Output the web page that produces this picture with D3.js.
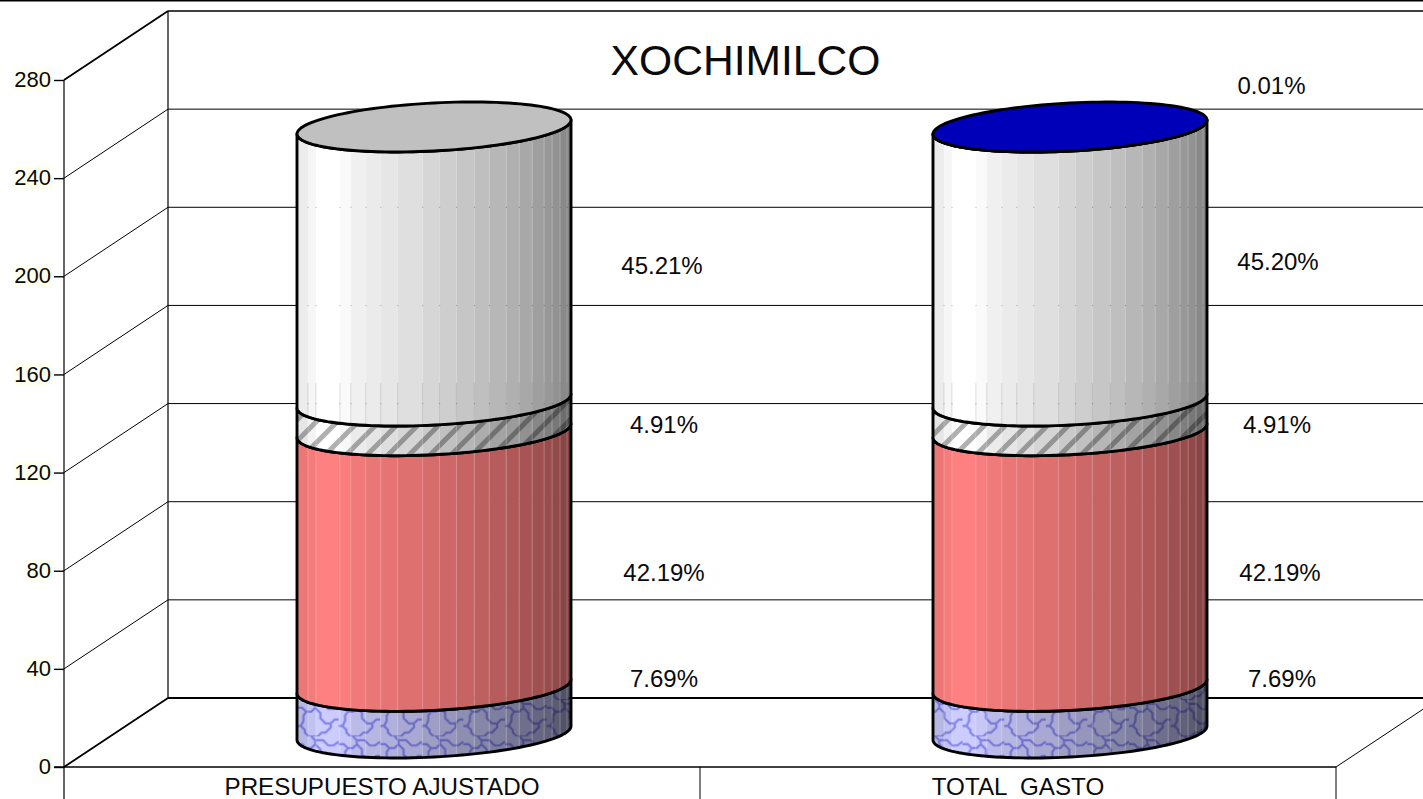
<!DOCTYPE html>
<html><head><meta charset="utf-8">
<script src="https://cdn.jsdelivr.net/npm/d3@7"></script>
<style>html,body{margin:0;padding:0;background:#fff;overflow:hidden}svg{display:block}text{font-family:"Liberation Sans",Arial,sans-serif;fill:#0a0a0a}</style>
</head><body><div id="chart"></div>
<script>
const categories = ["PRESUPUESTO AJUSTADO", "TOTAL  GASTO"];
const title = "XOCHIMILCO";
const tickValues = [0, 40, 80, 120, 160, 200, 240, 280];
const serieBlue = [19, 19];
const serieRed = [104.2, 104.2];
const serieGrey = [12.1, 12.1];
const serieWhite = [111.7, 111.65];
const serieTop = [0, 0.02];
const labelsBlue = ["7.69%", "7.69%"];
const labelsRed = ["42.19%", "42.19%"];
const labelsGrey = ["4.91%", "4.91%"];
const labelsWhite = ["45.21%", "45.20%"];
const labelsTop = ["", "0.01%"];

const W = 1423, H = 799, DX = 104, DY = 69;
const svg = d3.select("#chart").append("svg").attr("width", W).attr("height", H);
const y = d3.scaleLinear().domain([0, 280]).range([767, 80]);
const x = d3.scaleBand().domain(categories).range([64, 1336]);
const defs = svg.append("defs");

// hatch fills
const pg = defs.append("pattern").attr("id", "hatch").attr("width", 21).attr("height", 21)
  .attr("patternUnits", "userSpaceOnUse").attr("patternTransform", "translate(297,0)");
pg.append("path").attr("d", "M-3,24 L24,-3 M-3,3 L3,-3 M18,24 L24,18").attr("stroke", "#b0b0b0").attr("stroke-width", 5).attr("fill", "none");
const pb = defs.append("pattern").attr("id", "weave").attr("width", 32).attr("height", 28)
  .attr("patternUnits", "userSpaceOnUse").attr("patternTransform", "translate(297,700) scale(1.3)");
pb.append("path").attr("d", "M0,6 h4 l3,3 h4 l3,-3 v-3 l-3,-3 M14,6 l4,4 v4 l4,4 h4 l3,-3 h3 M0,20 h3 l3,3 v2 l3,3 M7,9 l-2,3 v4 l-2,4 M16,28 l3,-3 h3 l4,-4 v-3 M14,3 h6 l4,4 h4 l4,-3 M9,28 h7")
  .attr("stroke", "#a4a4ee").attr("stroke-width", 1.7).attr("fill", "none");

// back wall and floor
const grid = svg.append("g").attr("stroke", "#000");
grid.selectAll("line.h").data(tickValues).join("line").attr("class", "h")
  .attr("x1", DX + 64).attr("x2", W).attr("y1", d => y(d) - DY).attr("y2", d => y(d) - DY)
  .attr("stroke-width", d => d === 0 ? 2 : d === 280 ? 1.4 : 1);
grid.selectAll("line.d").data(tickValues).join("line").attr("class", "d")
  .attr("x1", 64).attr("x2", 64 + DX).attr("y1", d => y(d)).attr("y2", d => y(d) - DY)
  .attr("stroke-width", d => (d === 0 || d === 280) ? 1.8 : 1);
grid.append("line").attr("x1", 168).attr("x2", 168).attr("y1", y(280) - DY).attr("y2", y(0) - DY).attr("stroke-width", 1.2);
grid.append("line").attr("x1", 1336).attr("x2", 1336 + DX).attr("y1", y(0)).attr("y2", y(0) - DY);
grid.append("line").attr("x1", 0).attr("x2", W).attr("y1", 0.5).attr("y2", 0.5).attr("stroke-width", 2);

// axes
grid.append("line").attr("x1", 64).attr("x2", 64).attr("y1", y(280)).attr("y2", H).attr("stroke-width", 1.2);
grid.append("line").attr("x1", 54).attr("x2", 1336).attr("y1", y(0)).attr("y2", y(0)).attr("stroke-width", 1.5);
const seps = [x.range()[0] + x.step(), x.range()[1]];
grid.selectAll("line.s").data(seps).join("line").attr("class", "s")
  .attr("x1", d => d).attr("x2", d => d).attr("y1", y(0)).attr("y2", H);

const yAxis = svg.append("g").attr("transform", "translate(64,0)")
  .call(d3.axisLeft(y).tickValues(tickValues).tickSize(10).tickPadding(3));
yAxis.select(".domain").remove();
yAxis.selectAll(".tick line").attr("stroke", "#000").attr("stroke-width", 1.4);
yAxis.selectAll(".tick text").attr("font-size", 22).attr("font-family", '"Liberation Sans",Arial,sans-serif').attr("fill", "#222")
  .attr("dy", ".3em");
yAxis.selectAll(".tick").each(function () {
  const t = d3.select(this), b = t.select("text").node().getBBox();
  t.insert("rect", "text").attr("x", b.x - 1).attr("y", b.y + 1).attr("width", b.width + 2).attr("height", b.height - 2).attr("fill", "#fffff0");
});

// cylinders
const R = 137, TILT = 7, RY = 24;
const facetEdges = [0, 11, 19, 43, 54, 69, 84, 101, 126, 143, 160, 178, 193, 210, 223, 236, 248, 256, 264, 271, 275].map(d => d / 275);
const shade = d3.scaleLinear().domain([0, .03, .06, .1, .16, .2, .43, .61, .79, .94, 1]).range([.9, .94, .97, 1, 1, .95, .87, .78, .69, .58, .5]).clamp(true);
const tint = (base, k) => { const c = d3.rgb(base); return d3.rgb(c.r * k, c.g * k, c.b * k).formatHex(); };
const pt = (cx, cy, t) => [cx + R * Math.cos(t), cy - TILT * Math.cos(t) + RY * Math.sin(t)];
const arc = d3.range(0, 61).map(i => i / 60 * Math.PI);
const crescent = (cx, y0, y1) => {
  const low = arc.map(t => pt(cx, y0, t));           // right to left along the lower edge
  const up = arc.slice().reverse().map(t => pt(cx, y1, t)); // left to right along the upper edge
  return d3.line()(low.concat(up)) + "Z";
};
const seriesDefs = [
  { vals: serieBlue, base: "#ccccff", over: "url(#weave)", gamma: 1.45 },
  { vals: serieRed, base: "#ff8080", gamma: 1 },
  { vals: serieGrey, base: "#ffffff", over: "url(#hatch)", gamma: 1.35 },
  { vals: serieWhite, base: "#ffffff", gamma: 1, seamMarks: true },
  { vals: serieTop, base: "#ffffff", gamma: 1 }
];
const topColors = ["#c0c0c0", "#0000b8"];
const baseY = -34; // floor offset of the cylinder axis
const ellipse = (cx, cy) => d3.line()(d3.range(0, 121).map(i => pt(cx, cy, i / 120 * 2 * Math.PI))) + "Z";

categories.forEach((cat, ci) => {
  const cx = x(cat) + x.bandwidth() / 2 + DX / 2;
  const g = svg.append("g");
  let cum = 0;
  seriesDefs.forEach((s, si) => {
    const v = s.vals[ci];
    if (!v) return;
    const y0 = y(cum) + baseY, y1 = y(cum + v) + baseY;
    cum += v;
    const id = `clip-${ci}-${si}`, d = crescent(cx, y0, y1);
    defs.append("clipPath").attr("id", id).append("path").attr("d", d);
    const sg = g.append("g").attr("clip-path", `url(#${id})`);
    const fx = d3.scaleLinear().domain([0, 1]).range([cx - R, cx + R]);
    d3.pairs(facetEdges).forEach(([a, b]) => {
      sg.append("rect").attr("x", fx(a)).attr("width", fx(b) - fx(a) + .5).attr("y", y1 - 40).attr("height", y0 - y1 + 80)
        .attr("fill", tint(s.base, Math.pow(shade((a + b) / 2), s.gamma)));
    });
    if (s.over) sg.append("rect").attr("x", cx - R).attr("width", 2 * R).attr("y", y1 - 40).attr("height", y0 - y1 + 80)
      .attr("fill", s.over).style("mix-blend-mode", "multiply");
    facetEdges.slice(1, -1).forEach(a => {
      sg.append("line").attr("x1", fx(a)).attr("x2", fx(a)).attr("y1", y1 - 40).attr("y2", y0 + 40)
        .attr("stroke", "#fff").attr("stroke-opacity", .24).attr("stroke-width", 1);
      if (s.seamMarks) {
        sg.append("line").attr("x1", fx(a)).attr("x2", fx(a)).attr("y1", y0 - 18).attr("y2", y0 + 30)
          .attr("stroke", "#555").attr("stroke-opacity", .18).attr("stroke-width", 1);
        tickValues.forEach(tv => {
          sg.append("rect").attr("x", fx(a) - .5).attr("y", y(tv) - DY - .5).attr("width", 1.2).attr("height", 1.2).attr("fill", "#000").attr("fill-opacity", .22);
        });
      }
    });
    g.append("path").attr("d", d).attr("fill", "none").attr("stroke", "#000").attr("stroke-width", 2.9).attr("stroke-linejoin", "round");
  });
  g.append("path").attr("d", ellipse(cx, y(cum) + baseY)).attr("fill", topColors[ci]).attr("stroke", "#000").attr("stroke-width", 2.9);
});

// category labels
svg.selectAll("text.cat").data(categories).join("text").attr("class", "cat")
  .attr("x", d => x(d) + x.bandwidth() / 2).attr("y", 795).attr("text-anchor", "middle")
  .attr("font-size", 24.2).style("white-space", "pre").text(d => d);

// value labels, placed by hand in the original
const labelSpots = [
  { t: labelsBlue, xs: [664, 1282], ys: [678.5, 678.5] },
  { t: labelsRed, xs: [664, 1280], ys: [572.5, 572.5] },
  { t: labelsGrey, xs: [664, 1277], ys: [424.7, 424.7] },
  { t: labelsWhite, xs: [662, 1278], ys: [265.5, 261.5] },
  { t: labelsTop, xs: [0, 1271.5], ys: [0, 85.5] }
];
labelSpots.forEach(l => l.t.forEach((txt, i) => {
  if (!txt) return;
  svg.append("text").attr("x", l.xs[i]).attr("y", l.ys[i]).attr("dy", ".35em").attr("text-anchor", "middle").attr("font-size", 24).text(txt);
}));

svg.append("text").attr("x", 745.5).attr("y", 75).attr("text-anchor", "middle").attr("font-size", 42.6).text(title);
</script></body></html>
